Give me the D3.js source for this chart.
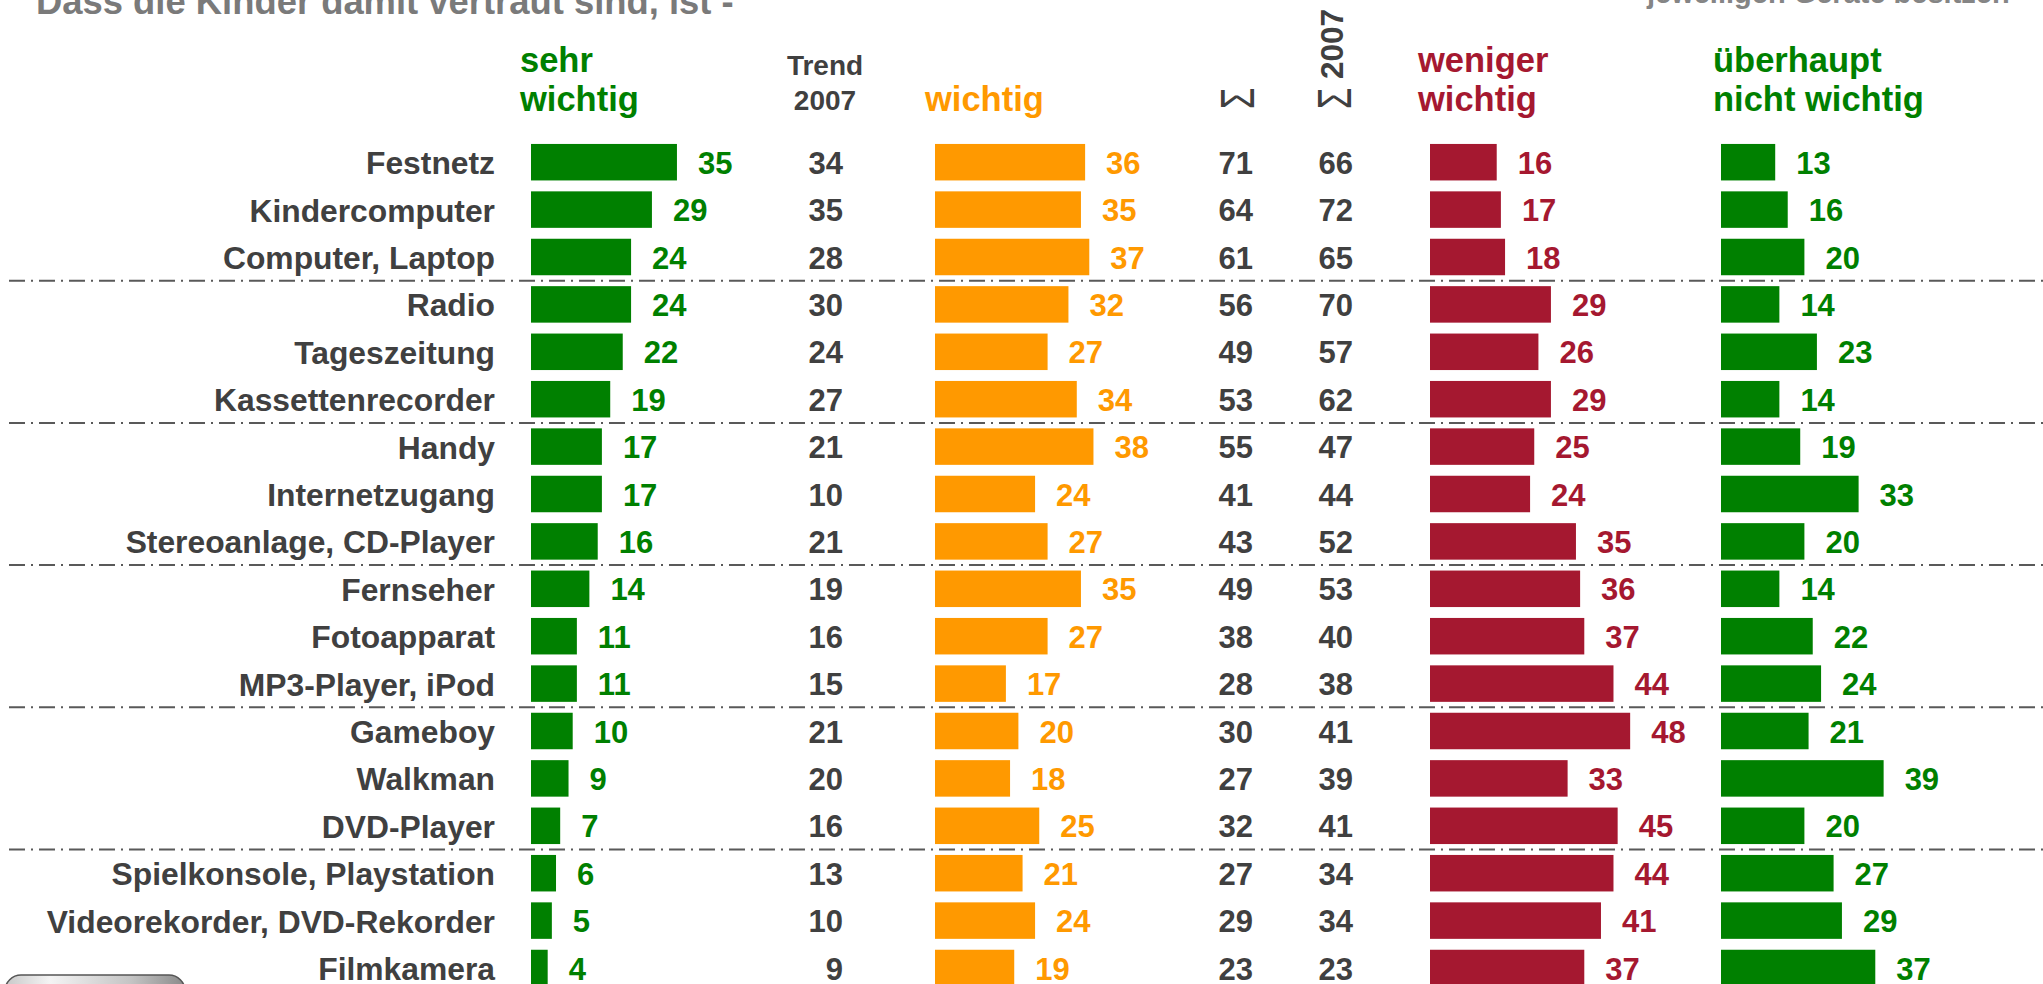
<!DOCTYPE html>
<html>
<head>
<meta charset="utf-8">
<script src="https://cdn.jsdelivr.net/npm/d3@7"></script>
<style>
  html, body { margin: 0; padding: 0; background: #ffffff; overflow: hidden; }
  svg { display: block; }
  text { font-family: "Liberation Sans", Arial, sans-serif; font-weight: bold; }
</style>
</head>
<body>
<script>
// ---------- data ----------
const categories = [
  "Festnetz", "Kindercomputer", "Computer, Laptop",
  "Radio", "Tageszeitung", "Kassettenrecorder",
  "Handy", "Internetzugang", "Stereoanlage, CD-Player",
  "Fernseher", "Fotoapparat", "MP3-Player, iPod",
  "Gameboy", "Walkman", "DVD-Player",
  "Spielkonsole, Playstation", "Videorekorder, DVD-Rekorder", "Filmkamera"
];
const sehrWichtig     = [35, 29, 24, 24, 22, 19, 17, 17, 16, 14, 11, 11, 10, 9, 7, 6, 5, 4];
const trend2007       = [34, 35, 28, 30, 24, 27, 21, 10, 21, 19, 16, 15, 21, 20, 16, 13, 10, 9];
const wichtig         = [36, 35, 37, 32, 27, 34, 38, 24, 27, 35, 27, 17, 20, 18, 25, 21, 24, 19];
const summe           = [71, 64, 61, 56, 49, 53, 55, 41, 43, 49, 38, 28, 30, 27, 32, 27, 29, 23];
const summe2007       = [66, 72, 65, 70, 57, 62, 47, 44, 52, 53, 40, 38, 41, 39, 41, 34, 34, 23];
const wenigerWichtig  = [16, 17, 18, 29, 26, 29, 25, 24, 35, 36, 37, 44, 48, 33, 45, 44, 41, 37];
const ueberhauptNicht = [13, 16, 20, 14, 23, 14, 19, 33, 20, 14, 22, 24, 21, 39, 20, 27, 29, 37];
const groupSize = 3;

const titleText = "Dass die Kinder damit vertraut sind, ist -";
const noteText = "jeweiligen Geräte besitzen";

// ---------- layout ----------
const W = 2043, H = 984;
const GREEN = "#008000", ORANGE = "#FF9900", RED = "#A51830", DARK = "#404040";

const svg = d3.select("body").append("svg").attr("width", W).attr("height", H);

const defs = svg.append("defs");
const grad = defs.append("linearGradient").attr("id", "btn").attr("x1", "0").attr("x2", "1").attr("y1", "0").attr("y2", "0");
grad.append("stop").attr("offset", "0").attr("stop-color", "#c8c8c8");
grad.append("stop").attr("offset", "0.25").attr("stop-color", "#f4f4f4");
grad.append("stop").attr("offset", "0.7").attr("stop-color", "#c4c4c4");
grad.append("stop").attr("offset", "1").attr("stop-color", "#8a8a8a");

const step = 47.4;
const y = d3.scaleBand().domain(categories)
  .range([138.5, 138.5 + categories.length * step])
  .paddingInner(0.23).paddingOuter(0.115);
const x = d3.scaleLinear().domain([0, 10]).range([0, 41.7]);
const yc = c => y(c) + y.bandwidth() / 2;

// title (cut at the top)
svg.append("text").attr("x", 36).attr("y", 14).attr("font-size", 36.4).attr("fill", "#7a7a7a").text(titleText);
svg.append("text").attr("x", 1647).attr("y", 3).attr("font-size", 29).attr("fill", "#858585").text(noteText);

// separator lines between groups
const breaks = categories.filter((c, i) => i > 0 && i % groupSize === 0);
svg.append("g").selectAll("line").data(breaks).join("line")
  .attr("x1", 9).attr("x2", W)
  .attr("y1", d => y(d) - (step - y.bandwidth()) / 2)
  .attr("y2", d => y(d) - (step - y.bandwidth()) / 2)
  .attr("stroke", "#595959").attr("stroke-width", 2)
  .attr("stroke-dasharray", "16,6,2,6");

// row labels
svg.append("g").selectAll("text").data(categories).join("text")
  .attr("x", 495).attr("y", d => yc(d) + 12)
  .attr("text-anchor", "end").attr("font-size", 31.8).attr("fill", DARK)
  .text(d => d);

// bar series
const series = [
  { values: sehrWichtig, x0: 531, color: GREEN },
  { values: wichtig, x0: 935, color: ORANGE },
  { values: wenigerWichtig, x0: 1430, color: RED },
  { values: ueberhauptNicht, x0: 1721, color: GREEN }
];
series.forEach(s => {
  const g = svg.append("g");
  const rows = categories.map((c, i) => ({ c, v: s.values[i] }));
  g.selectAll("rect").data(rows).join("rect")
    .attr("x", s.x0).attr("y", d => y(d.c))
    .attr("width", d => x(d.v)).attr("height", y.bandwidth())
    .attr("fill", s.color);
  g.selectAll("text").data(rows).join("text")
    .attr("x", d => s.x0 + x(d.v) + 21).attr("y", d => yc(d.c) + 11.5)
    .attr("font-size", 31).attr("fill", s.color)
    .text(d => d.v);
});

// plain number columns
const numCols = [
  { values: trend2007, xr: 843 },
  { values: summe, xr: 1253 },
  { values: summe2007, xr: 1353 }
];
numCols.forEach(col => {
  svg.append("g").selectAll("text").data(categories).join("text")
    .attr("x", col.xr).attr("y", (d) => yc(d) + 11.5)
    .attr("text-anchor", "end").attr("font-size", 31).attr("fill", DARK)
    .text((d, i) => col.values[i]);
});

// headers
const headers = [
  { lines: ["sehr", "wichtig"], x: 520, color: GREEN },
  { lines: ["", "wichtig"], x: 925, color: ORANGE },
  { lines: ["weniger", "wichtig"], x: 1418, color: RED },
  { lines: ["überhaupt", "nicht wichtig"], x: 1713, color: GREEN }
];
headers.forEach(h => {
  h.lines.forEach((t, j) => {
    if (!t) return;
    svg.append("text").attr("x", h.x).attr("y", j === 0 ? 72 : 111)
      .attr("font-size", 34.5).attr("fill", h.color).text(t);
  });
});
svg.append("text").attr("x", 825).attr("y", 75).attr("text-anchor", "middle")
  .attr("font-size", 28).attr("fill", DARK).text("Trend");
svg.append("text").attr("x", 825).attr("y", 110).attr("text-anchor", "middle")
  .attr("font-size", 28).attr("fill", DARK).text("2007");

// rotated sigma headers
function sigma(xb, yb) {
  svg.append("text")
    .attr("transform", `translate(${xb},${yb}) rotate(-90) scale(0.72,1)`)
    .attr("font-size", 48).style("font-weight", "normal")
    .attr("fill", DARK).text("Σ");
}
sigma(1254, 109);
sigma(1351, 109);
svg.append("text")
  .attr("transform", "translate(1343,79) rotate(-90)")
  .attr("font-size", 31.5).attr("fill", DARK).text("2007");

// button at the bottom left (partly visible)
svg.append("rect").attr("x", 5).attr("y", 975).attr("width", 180).attr("height", 40)
  .attr("rx", 16).attr("ry", 16).attr("fill", "url(#btn)")
  .attr("stroke", "#555").attr("stroke-width", 1.5);
</script>
</body>
</html>
